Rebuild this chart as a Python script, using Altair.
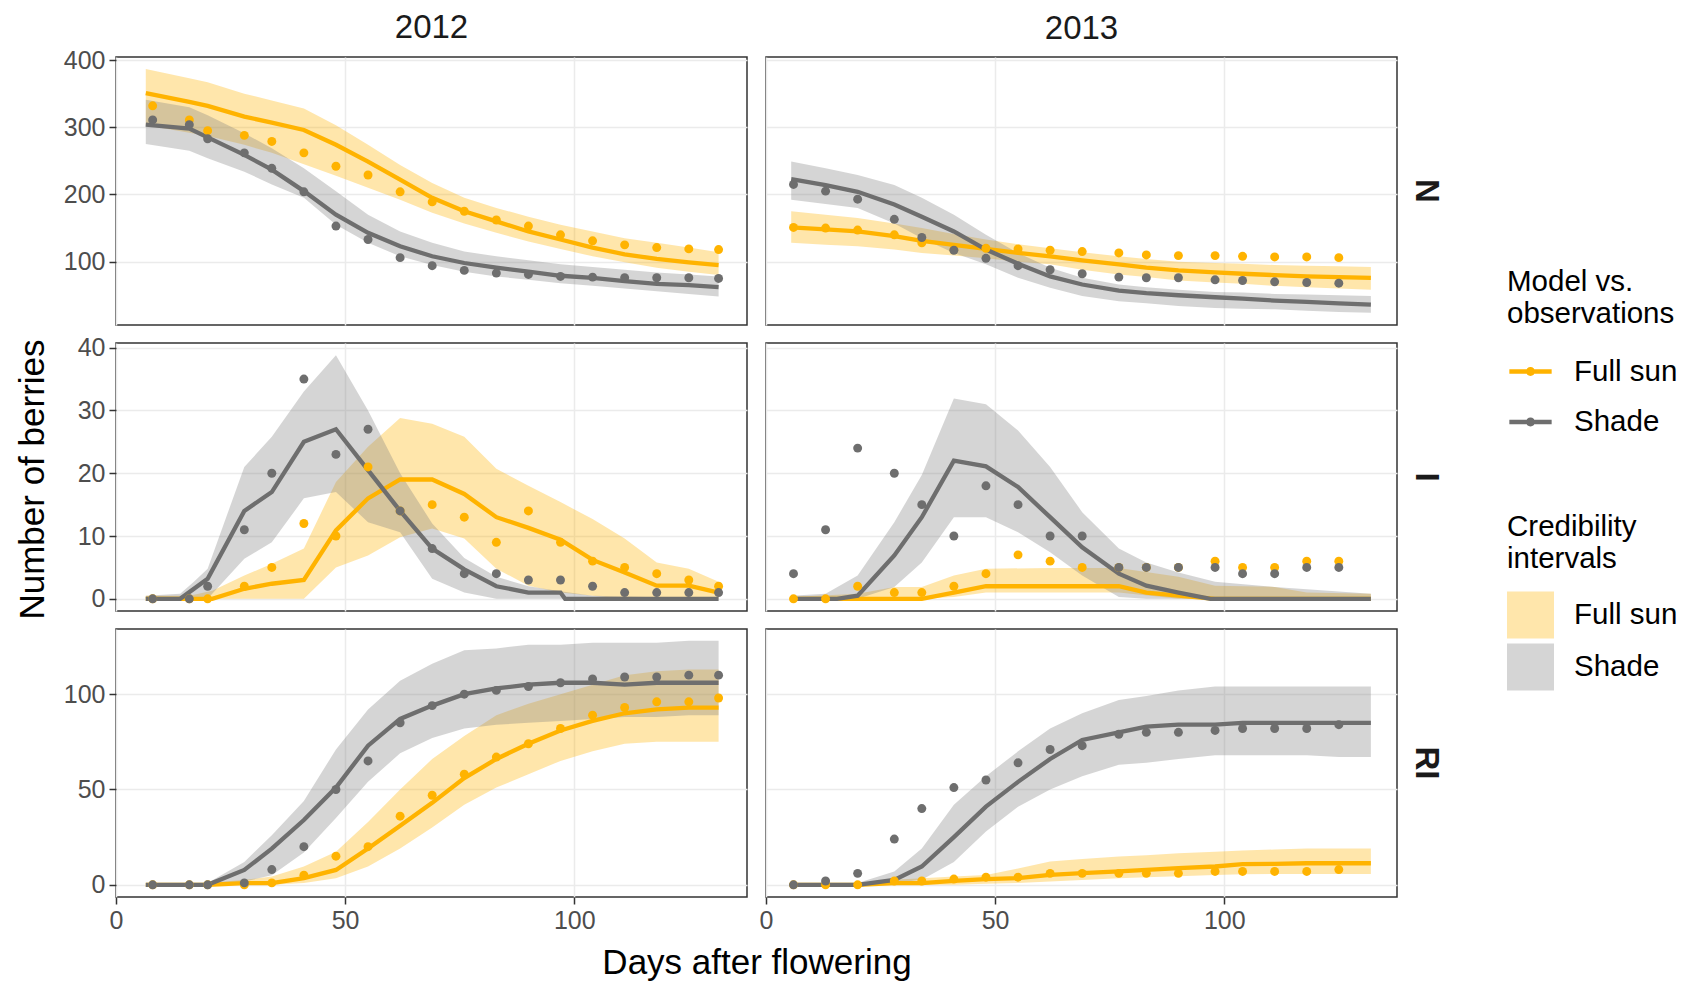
import altair as alt
import pandas as pd

FONT = "Liberation Sans"
TRT = ["Full sun", "Shade"]
CI = ["Full sun CI", "Shade CI"]
MODEL = ["Full sun model", "Shade model"]
LINE_COLORS = ["#FFB300", "#6E6E6E"]
RIB_COLORS = ["#FFB300", "#808080"]

W, H = 631, 268
X_DOMAIN = [0, 137.7]
X_TICKS = [0, 50, 100]
N_DOMAIN = [5.7, 404.7]
N_TICKS = [100, 200, 300, 400]
I_DOMAIN = [-1.94, 40.74]
I_TICKS = [0, 10, 20, 30, 40]
RI_DOMAIN = [-6.4, 134.2]
RI_TICKS = [0, 50, 100]

# observation and model days
OBS_DAYS_2012 = [8, 16, 20, 28, 34, 41, 48, 55, 62, 69, 76, 83, 90, 97, 104, 111, 118, 125, 131.5]
MOD_DAYS_2012 = [6.5, 16, 20, 28, 34, 41, 48, 55, 62, 69, 76, 83, 90, 97, 104, 111, 118, 125, 131.5]
OBS_DAYS_2013 = [6, 13, 20, 28, 34, 41, 48, 55, 62, 69, 77, 83, 90, 98, 104, 111, 118, 125]
MOD_DAYS_2013 = [5.5, 13, 20, 28, 34, 41, 48, 55, 62, 69, 77, 83, 90, 98, 104, 111, 118, 125, 132]

# ---- 2012, N ----
N12_OBS_SUN = [332, 311, 295, 288, 279, 262, 242, 229, 204, 189, 175, 162, 153, 140, 131, 125, 121, 119, 118]
N12_OBS_SHADE = [311, 304, 283, 262, 239, 204, 153, 133, 106, 94, 87, 83, 81, 78, 77, 76, 76, 76, 75]
N12_SUN_MID = [351, 338, 332, 316, 307, 296, 274, 249, 222, 195, 175, 160, 145, 133, 121, 111, 104, 99, 95]
N12_SUN_LO = [303, 292, 287, 274, 262, 245, 228, 210, 192, 173, 157, 143, 130, 119, 108, 99, 91, 85, 80]
N12_SUN_HI = [387, 373, 367, 350, 340, 328, 303, 274, 244, 217, 195, 180, 167, 155, 145, 135, 128, 121, 114]
N12_SHADE_MID = [304, 298, 285, 259, 237, 205, 170, 143, 123, 108, 98, 91, 85, 79, 76, 71, 67, 65, 62]
N12_SHADE_LO = [275, 265, 254, 234, 215, 195, 155, 128, 108, 95, 85, 78, 73, 68, 64, 60, 56, 52, 48]
N12_SHADE_HI = [341, 330, 318, 291, 269, 239, 205, 170, 145, 128, 115, 108, 102, 96, 92, 88, 84, 81, 78]

# ---- 2013, N ----
N13_OBS_SUN = [151, 150, 147, 140, 128, 118, 120, 119, 117, 115, 113, 110, 109, 109, 108, 107, 107, 106]
N13_OBS_SHADE = [215, 205, 193, 163, 136, 117, 105, 94, 88, 82, 77, 76, 76, 73, 72, 70, 69, 68]
N13_SUN_MID = [151, 148, 145, 138, 131, 125, 119, 113, 108, 102, 96, 91, 87, 84, 82, 80, 78, 77, 76]
N13_SUN_LO = [128, 125, 123, 118, 113, 109, 105, 100, 96, 88, 81, 77, 72, 69, 67, 64, 62, 60, 58]
N13_SUN_HI = [175, 170, 165, 157, 150, 141, 133, 126, 120, 114, 108, 104, 100, 98, 97, 95, 94, 93, 92]
N13_SHADE_MID = [223, 214, 204, 185, 167, 145, 118, 97, 78, 66, 57, 53, 50, 47, 45, 42, 40, 38, 36]
N13_SHADE_LO = [192, 186, 180, 157, 135, 113, 96, 76, 61, 49, 41, 38, 34, 31, 30, 29, 27, 25, 24]
N13_SHADE_HI = [249, 239, 229, 214, 195, 170, 140, 113, 91, 76, 66, 62, 58, 55, 54, 52, 51, 50, 49]

# ---- 2012, I ----
I12_OBS_SUN = [0, 0, 0, 2, 5, 12, 10, 21, 14, 15, 13, 9, 14, 9, 6, 5, 4, 3, 2]
I12_OBS_SHADE = [0, 0, 2, 11, 20, 35, 23, 27, 14, 8, 4, 4, 3, 3, 2, 1, 1, 1, 1]
I12_SUN_X = [6.5, 16, 21, 28, 34, 41, 48, 55, 62, 69, 76, 83, 90, 97, 104, 111, 118, 125, 131.5]
I12_SUN_MID = [0, 0, 0, 1.6, 2.4, 3, 10.9, 16, 19, 19, 16.7, 13, 11.3, 9.4, 6.2, 4.2, 2.1, 2.1, 1]
I12_SUN_LO = [0, 0, 0, 0, 0, 0, 5, 6.9, 9.8, 11.2, 9.6, 4.8, 2.1, 1, 0.5, 0, 0, 0, 0]
I12_SUN_HI = [0.5, 0.5, 1.3, 3.7, 5.6, 8, 18.6, 24.2, 28.8, 27.9, 25.8, 20.7, 18, 15.4, 12.7, 9.6, 5.8, 4.8, 2.7]
I12_SHADE_X = [6.5, 14, 20, 28, 34, 41, 48, 55, 62, 69, 76, 83, 90, 97, 98, 131.5]
I12_SHADE_MID = [0, 0, 3.2, 14, 17, 25, 27, 20.5, 14, 8, 4.7, 2, 1, 1, 0, 0]
I12_SHADE_RX = [6.5, 14, 17, 20, 28, 34, 41, 48, 55, 62, 69, 76, 83, 90, 97, 104, 131.5]
I12_SHADE_LO = [0, 0, 0, 0, 6.4, 9, 16, 17, 12.2, 10.6, 3.2, 1, 0, 0, 0, 0, 0]
I12_SHADE_HI = [0.5, 0.8, 2.7, 4.8, 21, 25.8, 33, 38.8, 30, 20, 12, 6.5, 3.5, 2, 1.2, 0.5, 0]

# ---- 2013, I ----
I13_OBS_SUN = [0, 0, 2, 1, 1, 2, 4, 7, 6, 5, 5, 5, 5, 6, 5, 5, 6, 6]
I13_OBS_SHADE = [4, 11, 24, 20, 15, 10, 18, 15, 10, 10, 5, 5, 5, 5, 4, 4, 5, 5]
I13_SUN_X = [5.5, 34, 41, 48, 55, 62, 69, 77, 83, 90, 98, 132]
I13_SUN_MID = [0, 0, 1, 2, 2, 2, 2, 2, 1, 0.5, 0, 0]
I13_SUN_RX = [5.5, 20, 28, 34, 41, 48, 62, 77, 90, 98, 111, 118, 132]
I13_SUN_LO = [0, 0, 0, 0, 0.3, 1, 1, 1, 0, 0, 0, 0, 0]
I13_SUN_HI = [0.3, 0.8, 1.9, 1.9, 3.7, 4.8, 4.9, 4.9, 3.5, 2.1, 1.9, 1, 0.8]
I13_SHADE_X = [5.5, 15.5, 20, 28, 34, 41, 48, 55, 62, 69, 77, 83, 90, 97, 132]
I13_SHADE_MID = [0, 0, 0.5, 6.9, 13, 22, 21.1, 17.8, 13, 8.2, 4, 2.1, 1, 0, 0]
I13_SHADE_RX = [5.5, 13, 20, 28, 34, 41, 48, 55, 62, 69, 77, 83, 90, 98, 111, 132]
I13_SHADE_LO = [0, 0, 0, 1.9, 5.8, 13, 13, 10.6, 7.4, 3.7, 0.3, 0, 0, 0, 0, 0]
I13_SHADE_HI = [0.5, 0.8, 3.7, 12.2, 19.7, 31.9, 31, 26.8, 21, 13.8, 8, 5.8, 4.2, 2.7, 1.9, 0.8]

# ---- 2012, RI ----
RI12_OBS_SUN = [0, 0, 0, 0, 1, 5, 15, 20, 36, 47, 58, 67, 74, 82, 89, 93, 96, 96, 98]
RI12_OBS_SHADE = [0, 0, 0, 1, 8, 20, 50, 65, 85, 94, 100, 102, 104, 106, 108, 109, 109, 110, 110]
RI12_SUN_MID = [0, 0, 0, 0.9, 0.9, 3.5, 7.8, 19, 31, 43, 56, 66, 74, 81, 86, 90, 92, 93, 93]
RI12_SUN_LO = [0, 0, 0, 0, 0, 0.9, 3.5, 9.6, 19, 30, 42, 51, 58, 65, 70, 74, 75, 75, 75]
RI12_SUN_HI = [0, 0, 0.9, 2.6, 4.3, 9.6, 17.4, 33, 50, 66, 78, 89, 95, 100, 105, 110, 112, 113, 113]
RI12_SHADE_MID = [0, 0, 0, 7.8, 19, 34, 51, 73, 87, 94, 100, 103, 105, 106, 106, 105, 106, 106, 106]
RI12_SHADE_LO = [0, 0, 0, 1.7, 5, 17, 35, 54, 69, 77, 82, 84, 85, 86, 87, 88, 88, 89, 89]
RI12_SHADE_HI = [0, 0, 1, 12, 26, 44, 71, 92, 107, 116, 123, 124, 126, 126, 127, 127, 127, 128, 128]

# ---- 2013, RI ----
RI13_OBS_SUN = [0, 0, 0, 2, 2, 3, 4, 4, 6, 6, 6, 6, 6, 7, 7, 7, 7, 8]
RI13_OBS_SHADE = [0, 2, 6, 24, 40, 51, 55, 64, 71, 73, 79, 80, 80, 81, 82, 82, 82, 84]
RI13_SUN_MID = [0, 0, 0, 0.9, 0.9, 2.1, 3, 3.5, 5.2, 6.1, 7, 7.8, 8.7, 9.6, 10.8, 11, 11.3, 11.3, 11.3]
RI13_SUN_LO = [0, 0, 0, 0, 0, 0, 0.5, 1, 1.7, 2.5, 3.5, 4, 4.5, 5.2, 5.5, 5.7, 5.7, 5.7, 5.7]
RI13_SUN_HI = [0, 0, 0.5, 2.6, 3.5, 4.3, 5.2, 8.5, 12.2, 13.5, 14.8, 15.5, 16.5, 17.4, 18, 18.5, 19, 19, 19]
RI13_SHADE_MID = [0, 0, 0, 2.6, 9.6, 25, 41, 54, 66, 76, 80, 83, 84, 84, 85, 85, 85, 85, 85]
RI13_SHADE_LO = [0, 0, 0, 1, 2.6, 12, 28, 41, 50, 57, 63, 64, 66, 68, 68, 68, 68, 67, 67]
RI13_SHADE_HI = [0, 0, 1, 7, 19, 42, 57, 70, 82, 90, 97, 99, 102, 104, 104, 104, 104, 104, 104]

LEG_LINE_SYMBOL = ("M-0.9,-0.1 L0.9,-0.1 L0.9,0.1 L-0.9,0.1 Z "
                   "M0.19,0 A0.19,0.19 0 1 1 -0.19,0 A0.19,0.19 0 1 1 0.19,0 Z")

LEGEND_COMMON = dict(orient="none", legendX=1391, symbolSize=2209,
                     symbolStrokeWidth=0,
                     titleFontSize=29.5, titleFont=FONT, titleColor="#000000",
                     titleFontWeight="normal", titleLineHeight=32, titleLimit=400,
                     titleBaseline="top",
                     labelFontSize=29.5, labelFont=FONT, labelColor="#000000",
                     labelOffset=20, labelLimit=400, padding=0)


def two(a, b):
    return list(a) + list(b)


def panel(row, col, ydom, yticks, obs_days, obs_sun, obs_shade,
          sun_x, sun_mid, sun_rx, sun_lo, sun_hi,
          shade_x, shade_mid, shade_rx, shade_lo, shade_hi):
    bottom = row == "RI"
    left = col == 0
    obs = pd.DataFrame({"day": two(obs_days, obs_days),
                        "value": two(obs_sun, obs_shade),
                        "trt": [TRT[0]] * len(obs_sun) + [TRT[1]] * len(obs_shade)})
    mid = pd.DataFrame({"day": two(sun_x, shade_x),
                        "value": two(sun_mid, shade_mid),
                        "model": [MODEL[0]] * len(sun_mid) + [MODEL[1]] * len(shade_mid)})
    rib = pd.DataFrame({"day": two(sun_rx, shade_rx),
                        "lo": two(sun_lo, shade_lo),
                        "hi": two(sun_hi, shade_hi),
                        "ci": [CI[0]] * len(sun_lo) + [CI[1]] * len(shade_lo)})

    xkw = dict(values=X_TICKS, grid=True, domain=False, labelFlush=False, format="d")
    if bottom:
        xkw.update(labels=True, ticks=True)
        if left:
            xkw.update(title="Days after flowering", titleX=W + 9.5, titleY=76,
                       titleBaseline="alphabetic")
        else:
            xkw.update(title=None)
    else:
        xkw.update(labels=False, ticks=False, title=None)

    ykw = dict(values=yticks, grid=True, domain=False, labelFlush=False)
    if left:
        ykw.update(labels=True, ticks=True)
        if row == "I":
            ykw.update(title="Number of berries", titleX=-73, titleY=H / 2 + 2,
                       titleBaseline="alphabetic", titleAngle=270)
        else:
            ykw.update(title=None)
    else:
        ykw.update(labels=False, ticks=False, title=None)

    xs = alt.Scale(domain=X_DOMAIN, nice=False, zero=False)
    ys = alt.Scale(domain=ydom, nice=False, zero=False)
    X = alt.X("day:Q", scale=xs, axis=alt.Axis(**xkw))

    area = alt.Chart(rib).mark_area(opacity=0.33).encode(
        x=X,
        y=alt.Y("lo:Q", scale=ys, axis=alt.Axis(**ykw)),
        y2="hi:Q",
        fill=alt.Fill("ci:N", scale=alt.Scale(domain=CI, range=RIB_COLORS),
                      legend=alt.Legend(title=["Credibility", "intervals"],
                                        legendY=456, symbolType="square",
                                        symbolOpacity=0.33, rowPadding=5,
                                        titlePadding=17,
                                        labelExpr="replace(datum.label, ' CI', '')",
                                        **LEGEND_COMMON)),
    )
    line = alt.Chart(mid).mark_line(strokeWidth=4.3).encode(
        x=X,
        y=alt.Y("value:Q", scale=ys),
        stroke=alt.Stroke("model:N", scale=alt.Scale(domain=MODEL, range=LINE_COLORS),
                          legend=None),
    )
    pts = alt.Chart(obs).mark_circle(size=80, opacity=1).encode(
        x=X,
        y=alt.Y("value:Q", scale=ys),
        color=alt.Color("trt:N", scale=alt.Scale(domain=TRT, range=LINE_COLORS),
                        legend=alt.Legend(title=["Model vs.", "observations"],
                                          legendY=211, symbolType=LEG_LINE_SYMBOL,
                                          symbolOpacity=1, rowPadding=12.5,
                                          titlePadding=18.5, **LEGEND_COMMON)),
    )
    layers = [area, line, pts]
    if col == 1:
        strip = alt.Chart(pd.DataFrame({"label": [row]})).mark_text(
            angle=90, fontSize=33, fontWeight="bold", font=FONT, color="#1A1A1A",
            align="center", baseline="middle").encode(
            x=alt.value(W + 29), y=alt.value(H / 2), text="label:N")
        layers.append(strip)
    ch = alt.layer(*layers).properties(width=W, height=H)
    if row == "N":
        ch = ch.properties(title=alt.TitleParams(
            "2012" if col == 0 else "2013", fontSize=33, font=FONT,
            fontWeight="normal", color="#1A1A1A", anchor="middle",
            frame="group", offset=3.5 if col == 0 else 11))
    return ch


p_n12 = panel("N", 0, N_DOMAIN, N_TICKS, OBS_DAYS_2012, N12_OBS_SUN, N12_OBS_SHADE,
              MOD_DAYS_2012, N12_SUN_MID, MOD_DAYS_2012, N12_SUN_LO, N12_SUN_HI,
              MOD_DAYS_2012, N12_SHADE_MID, MOD_DAYS_2012, N12_SHADE_LO, N12_SHADE_HI)
p_n13 = panel("N", 1, N_DOMAIN, N_TICKS, OBS_DAYS_2013, N13_OBS_SUN, N13_OBS_SHADE,
              MOD_DAYS_2013, N13_SUN_MID, MOD_DAYS_2013, N13_SUN_LO, N13_SUN_HI,
              MOD_DAYS_2013, N13_SHADE_MID, MOD_DAYS_2013, N13_SHADE_LO, N13_SHADE_HI)
p_i12 = panel("I", 0, I_DOMAIN, I_TICKS, OBS_DAYS_2012, I12_OBS_SUN, I12_OBS_SHADE,
              I12_SUN_X, I12_SUN_MID, I12_SUN_X, I12_SUN_LO, I12_SUN_HI,
              I12_SHADE_X, I12_SHADE_MID, I12_SHADE_RX, I12_SHADE_LO, I12_SHADE_HI)
p_i13 = panel("I", 1, I_DOMAIN, I_TICKS, OBS_DAYS_2013, I13_OBS_SUN, I13_OBS_SHADE,
              I13_SUN_X, I13_SUN_MID, I13_SUN_RX, I13_SUN_LO, I13_SUN_HI,
              I13_SHADE_X, I13_SHADE_MID, I13_SHADE_RX, I13_SHADE_LO, I13_SHADE_HI)
p_r12 = panel("RI", 0, RI_DOMAIN, RI_TICKS, OBS_DAYS_2012, RI12_OBS_SUN, RI12_OBS_SHADE,
              MOD_DAYS_2012, RI12_SUN_MID, MOD_DAYS_2012, RI12_SUN_LO, RI12_SUN_HI,
              MOD_DAYS_2012, RI12_SHADE_MID, MOD_DAYS_2012, RI12_SHADE_LO, RI12_SHADE_HI)
p_r13 = panel("RI", 1, RI_DOMAIN, RI_TICKS, OBS_DAYS_2013, RI13_OBS_SUN, RI13_OBS_SHADE,
              MOD_DAYS_2013, RI13_SUN_MID, MOD_DAYS_2013, RI13_SUN_LO, RI13_SUN_HI,
              MOD_DAYS_2013, RI13_SHADE_MID, MOD_DAYS_2013, RI13_SHADE_LO, RI13_SHADE_HI)

chart = alt.concat(p_n12, p_n13, p_i12, p_i13, p_r12, p_r13, columns=2,
                   spacing={"row": 18, "column": 19}).properties(
    bounds="flush",
    autosize=alt.AutoSizeParams(type="none"),
    padding={"left": 116, "top": 57, "right": 1682 - 116, "bottom": 984 - 57},
    background="white",
).configure_view(
    stroke="#333333", strokeWidth=1.5
).configure_axis(
    gridColor="#EBEBEB", gridWidth=1.5, tickColor="#333333", tickWidth=1.5,
    tickSize=7, labelColor="#4D4D4D", labelFontSize=25, labelFont=FONT,
    labelPadding=4, titleFont=FONT, titleFontSize=35, titleColor="#000000",
    titleFontWeight="normal"
)

chart.save("out.html", embed_options={"renderer": "svg", "actions": False})
